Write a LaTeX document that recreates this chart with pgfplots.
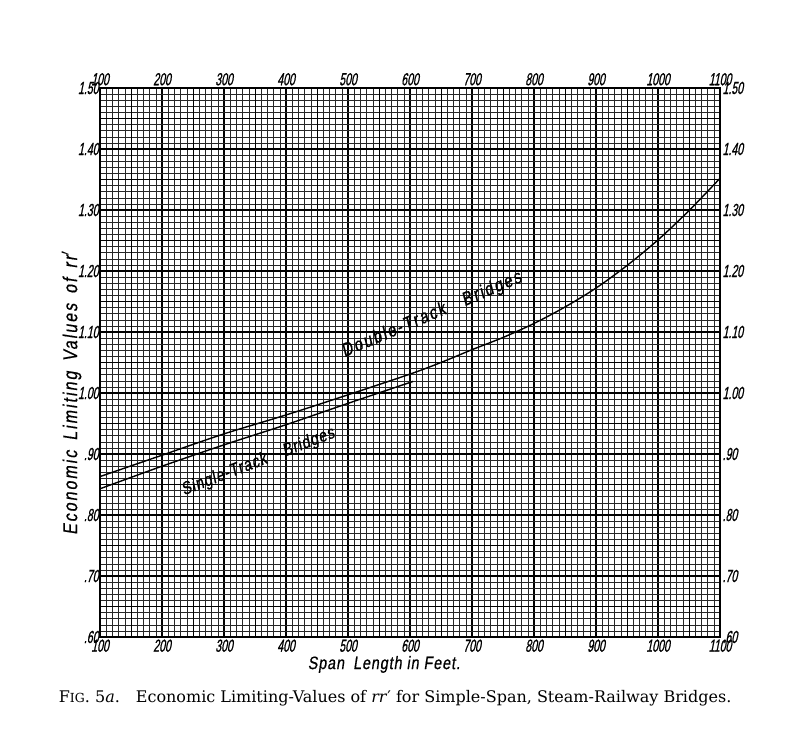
\documentclass[border=0pt]{standalone}
\usepackage{fontspec}
\usepackage{pgfplots}
\pgfplotsset{compat=1.18}
\newfontfamily\handA[FakeStretch=0.8,FakeSlant=0.15,LetterSpace=10,FakeBold=0.6]{Liberation Sans}
\newfontfamily\handB[FakeStretch=0.8,FakeSlant=0.15,LetterSpace=5,FakeBold=0.6]{Liberation Sans}
\newfontfamily\handnum[FakeStretch=0.6,FakeSlant=0.2,FakeBold=0.8]{Liberation Sans}
\newfontfamily\capfont{DejaVu Serif}
\pgfplotstableread{
x y
100 0.863
200 0.898
300 0.933
400 0.964
500 0.997
600 1.031
650 1.050
700 1.071
750 1.091
800 1.114
850 1.141
900 1.172
950 1.209
1000 1.251
1050 1.299
1100 1.352
}\doubletrack
\pgfplotstableread{
x y
100 0.843
200 0.880
300 0.915
400 0.948
500 0.983
605 1.019
}\singletrack
\begin{document}
\begin{tikzpicture}
\pgfplotsset{
  common/.style={
    scale only axis, width=620pt, height=549pt,
    xmin=100, xmax=1100, ymin=0.6, ymax=1.5,
    xtick={100,200,300,400,500,600,700,800,900,1000,1100},
    xticklabels={100,200,300,400,500,600,700,800,900,1000,1100},
    ytick={0.6,0.7,0.8,0.9,1.0,1.1,1.2,1.3,1.4,1.5},
    yticklabels={.60,.70,.80,.90,1.00,1.10,1.20,1.30,1.40,1.50},
    tick style={draw=none},
    tick label style={font=\handnum\fontsize{17.5}{19}\selectfont},
    clip=false,
  }
}
\begin{axis}[common,
  axis line style={line width=1.2pt},
  grid=both,
  minor x tick num=9, minor y tick num=9,
  minor grid style={black!85, line width=0.5pt},
  major grid style={black, line width=1.1pt},
  extra x ticks={150,250,350,450,550,650,750,850,950,1050},
  extra x tick labels={},
  extra x tick style={grid=major, major grid style={black, line width=0.75pt}},
  extra y ticks={0.65,0.75,0.85,0.95,1.05,1.15,1.25,1.35,1.45},
  extra y tick labels={},
  extra y tick style={grid=major, major grid style={black, line width=0.75pt}},
  xticklabel style={yshift=1pt},
  yticklabel style={xshift=2pt},
]
\addplot[black, line width=1.4pt, smooth] table[x=x,y=y] {\doubletrack};
\addplot[black, line width=1.4pt, smooth] table[x=x,y=y] {\singletrack};
\node[rotate=23, font=\handA\fontsize{19}{21}\selectfont] at (axis cs:635,1.128) {Double-Track\quad Bridges};
\node[rotate=21, font=\handB\fontsize{18}{20}\selectfont] at (axis cs:355,0.887) {Single-Track\quad Bridges};
\node[font=\handB\fontsize{18}{20}\selectfont] at (axis cs:558,0.555) {Span\enspace Length in Feet.};
\node[rotate=90, font=\handA\fontsize{20}{22}\selectfont] at (axis cs:54,1.0) {Economic\enspace Limiting\enspace Values\enspace of\enspace rr$'$};
\node[font=\capfont\fontsize{16}{18}\selectfont, anchor=base] at (axis cs:576,0.493) {F{\fontsize{12.5}{14}\selectfont IG}.\ 5\textit{a}.\quad Economic Limiting-Values of \textit{rr}′ for Simple-Span, Steam-Railway Bridges.};
\end{axis}
\begin{axis}[common,
  axis x line*=top, axis y line*=right,
  axis line style={line width=1.2pt},
  xticklabel style={yshift=-1pt},
  yticklabel style={xshift=-1pt},
]
\end{axis}
\pgfresetboundingbox
\path[use as bounding box] (-100pt,-98pt) rectangle (700pt,637pt);
\end{tikzpicture}
\end{document}
